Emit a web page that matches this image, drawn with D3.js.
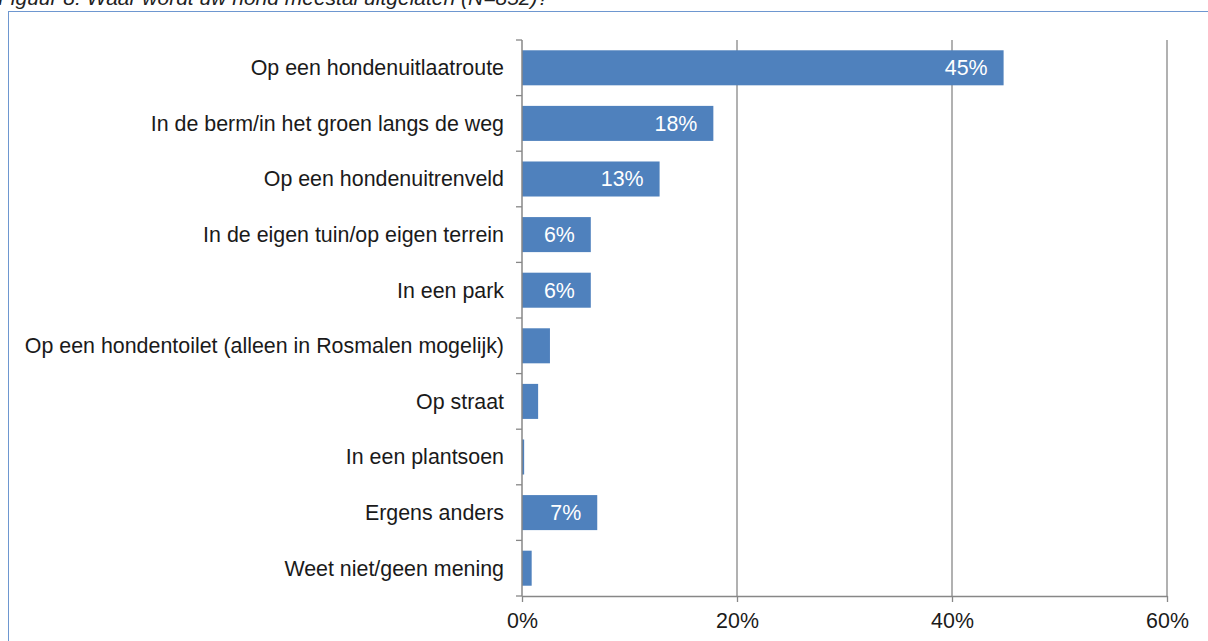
<!DOCTYPE html>
<html><head><meta charset="utf-8">
<script src="https://cdn.jsdelivr.net/npm/d3@7"></script>
<style>body{margin:0;background:#fff;overflow:hidden}text{font-family:"Liberation Sans",Arial,sans-serif}</style>
</head><body><svg id="c" width="1208" height="641"></svg>
<script>
const categories=["Op een hondenuitlaatroute","In de berm/in het groen langs de weg","Op een hondenuitrenveld","In de eigen tuin/op eigen terrein","In een park","Op een hondentoilet (alleen in Rosmalen mogelijk)","Op straat","In een plantsoen","Ergens anders","Weet niet/geen mening"];
const values=[44.8,17.8,12.8,6.4,6.4,2.6,1.5,0.2,7.0,0.9];
const valueLabels=["45%","18%","13%","6%","6%","","","","7%",""];
const tickValues=[0,20,40,60];
const tickLabels=["0%","20%","40%","60%"];
const title="Figuur 8: Waar wordt uw hond meestal uitgelaten (N=852)?";

const svg=d3.select("#c");
svg.append("text").attr("x",-2).attr("y",5).attr("font-size",21).attr("font-style","italic").attr("fill","#222").text(title);
svg.append("rect").attr("x",8.5).attr("y",11.5).attr("width",1300).attr("height",700).attr("fill","none").attr("stroke","#6e97d0").attr("stroke-width",1);

const x=d3.scaleLinear().domain([0,60]).range([522,1167]);
const y=d3.scaleBand().domain(categories).range([40,596]).paddingInner(0.37).paddingOuter(0.185);
const grid="#878787";
const fs=21.4;
svg.append("g").selectAll("line").data(tickValues.slice(1)).join("line")
 .attr("x1",d=>x(d)).attr("x2",d=>x(d)).attr("y1",40).attr("y2",596).attr("stroke",grid).attr("stroke-width",1.3);
svg.append("g").selectAll("rect").data(values).join("rect")
 .attr("x",x(0)).attr("y",(d,i)=>y(categories[i])).attr("width",d=>x(d)-x(0)).attr("height",y.bandwidth()).attr("fill","#4f81bd");
svg.append("g").selectAll("text").data(values).join("text")
 .attr("x",d=>x(d)-16).attr("y",(d,i)=>y(categories[i])+y.bandwidth()/2).attr("dy","0.35em")
 .attr("text-anchor","end").attr("font-size",fs).attr("fill","#fff").text((d,i)=>valueLabels[i]);
const ya=svg.append("g");
ya.append("line").attr("x1",x(0)).attr("x2",x(0)).attr("y1",40).attr("y2",596).attr("stroke",grid).attr("stroke-width",1.5);
ya.selectAll("line.t").data(d3.range(categories.length+1)).join("line").attr("class","t")
 .attr("x1",x(0)-6).attr("x2",x(0)).attr("y1",i=>40+i*(556/categories.length)).attr("y2",i=>40+i*(556/categories.length)).attr("stroke",grid).attr("stroke-width",1.3);
ya.selectAll("text").data(categories).join("text")
 .attr("x",504).attr("y",d=>y(d)+y.bandwidth()/2).attr("dy","0.35em").attr("text-anchor","end").attr("font-size",fs).attr("fill","#1a1a1a").text(d=>d);
const xa=svg.append("g").attr("transform","translate(0,596)").call(d3.axisBottom(x).tickValues(tickValues).tickFormat((d,i)=>tickLabels[i]).tickSize(6).tickSizeOuter(0));
xa.select(".domain").attr("stroke",grid).attr("stroke-width",1.5);
xa.selectAll(".tick line").attr("stroke",grid).attr("stroke-width",1.3);
xa.selectAll(".tick text").attr("font-size",fs).attr("fill","#1a1a1a").attr("font-family","Liberation Sans, Arial, sans-serif").attr("y",17);
</script></body></html>
